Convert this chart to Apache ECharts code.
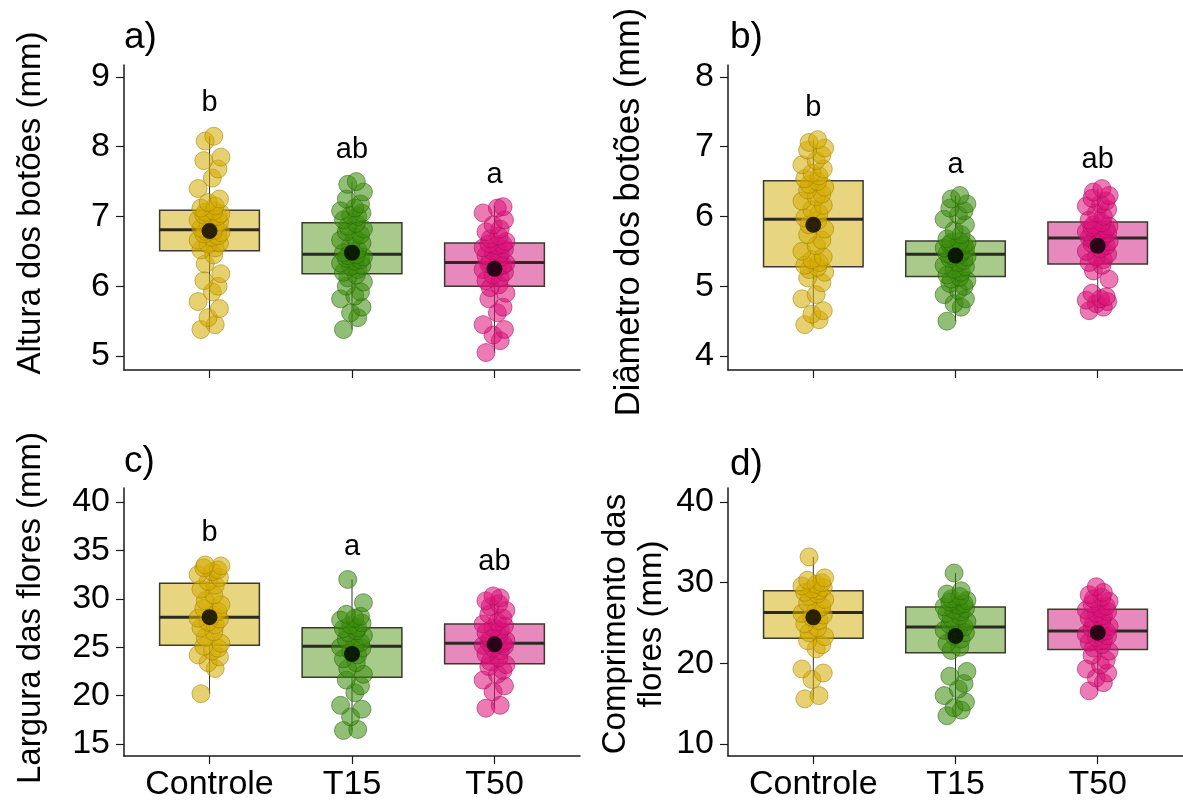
<!DOCTYPE html>
<html lang="pt">
<head>
<meta charset="utf-8">
<script src="https://cdn.jsdelivr.net/npm/echarts@6/dist/echarts.min.js"></script>
<style>
  html, body { margin: 0; padding: 0; background: #fff; }
  #chart { width: 1183px; height: 807px; }
</style>
</head>
<body>
<div id="chart"></div>
<script>
// categorias
var cats = ['Controle', 'T15', 'T50'];

// a) Altura dos botões (mm)
var aCtrl = [5.38, 5.45, 5.55, 5.68, 5.78, 5.92, 6.0, 6.08, 6.18, 6.32, 6.45,
             6.52, 6.55, 6.6, 6.62, 6.66, 6.7, 6.72, 6.75, 6.77, 6.79, 6.8,
             6.83, 6.86, 6.9, 6.92, 6.95, 6.98, 7.0, 7.02, 7.04, 7.06, 7.08,
             7.12, 7.15, 7.2, 7.25, 7.4, 7.55, 7.68, 7.8, 7.85, 8.08, 8.15];
var aT15 = [5.38, 5.55, 5.62, 5.7, 5.82, 5.86, 5.92, 6.0, 6.06, 6.12, 6.16,
            6.2, 6.24, 6.28, 6.3, 6.33, 6.36, 6.38, 6.4, 6.42, 6.44, 6.45,
            6.48, 6.52, 6.58, 6.62, 6.66, 6.7, 6.74, 6.78, 6.82, 6.86, 6.9,
            6.95, 7.0, 7.02, 7.05, 7.08, 7.12, 7.18, 7.25, 7.35, 7.46, 7.5];
var aT50 = [5.05, 5.22, 5.3, 5.38, 5.45, 5.62, 5.7, 5.82, 5.9, 5.98,
            6.02, 6.08, 6.12, 6.16, 6.2, 6.24, 6.27, 6.3, 6.32, 6.33,
            6.36, 6.4, 6.44, 6.47, 6.5, 6.53, 6.55, 6.58, 6.6, 6.61,
            6.64, 6.68, 6.72, 6.78, 6.82, 6.88, 6.95, 7.05, 7.12, 7.14];
var aBox = [[5.38, 6.51, 6.81, 7.09, 8.15], [5.38, 6.18, 6.46, 6.91, 7.5], [5.05, 6.0, 6.34, 6.62, 7.15]];
var aMean = [6.79, 6.48, 6.25];
var aLetters = ['b', 'ab', 'a'];
var aLetterY = [8.63, 7.95, 7.6];
var aTicks = [5, 6, 7, 8, 9];

// b) Diâmetro dos botões (mm)
var bCtrl = [4.45, 4.52, 4.6, 4.65, 4.82, 4.88, 5.05, 5.12, 5.2, 5.24, 5.27,
             5.3, 5.34, 5.38, 5.42, 5.5, 5.58, 5.66, 5.74, 5.82, 5.88, 5.94,
             5.98, 6.04, 6.1, 6.16, 6.22, 6.28, 6.32, 6.38, 6.42, 6.46, 6.5,
             6.54, 6.58, 6.62, 6.68, 6.74, 6.8, 6.88, 6.95, 6.98, 7.06, 7.1];
var bT15 = [4.5, 4.7, 4.75, 4.82, 4.88, 4.94, 5.0, 5.04, 5.08, 5.1, 5.13,
            5.16, 5.2, 5.24, 5.28, 5.3, 5.34, 5.37, 5.4, 5.42, 5.44, 5.45,
            5.47, 5.49, 5.51, 5.53, 5.55, 5.57, 5.59, 5.6, 5.62, 5.63, 5.64,
            5.68, 5.74, 5.8, 5.88, 5.96, 6.02, 6.08, 6.12, 6.18, 6.25, 6.3];
var bT50 = [4.65, 4.7, 4.75, 4.78, 4.8, 4.82, 4.85, 4.9, 5.1, 5.22, 5.3,
            5.34, 5.38, 5.42, 5.46, 5.5, 5.54, 5.58, 5.61, 5.64, 5.66, 5.68,
            5.7, 5.72, 5.74, 5.76, 5.78, 5.8, 5.82, 5.84, 5.86, 5.88, 5.91,
            5.95, 6.0, 6.05, 6.1, 6.15, 6.18, 6.22, 6.26, 6.3, 6.35, 6.4];
var bBox = [[4.45, 5.28, 5.96, 6.51, 7.1], [4.5, 5.14, 5.46, 5.65, 6.3], [4.65, 5.32, 5.69, 5.92, 6.4]];
var bMean = [5.88, 5.44, 5.58];
var bLetters = ['b', 'a', 'ab'];
var bLetterY = [7.55, 6.74, 6.81];
var bTicks = [4, 5, 6, 7, 8];

// c) Largura das flores (mm)
var cCtrl = [20.2, 22.8, 23.4, 24.0, 24.2, 24.6, 24.9, 25.1,
             25.4, 26.0, 26.6, 27.0, 27.3, 27.6, 27.9, 28.0,
             28.3, 28.7, 29.0, 29.4, 29.8, 30.4, 31.0, 31.4,
             31.8, 32.2, 32.5, 32.8, 33.0, 33.2, 33.4, 33.5];
var cT15 = [16.4, 16.5, 17.8, 18.6, 19.0, 20.3, 21.0, 21.6,
            22.2, 22.8, 23.4, 23.8, 24.2, 24.6, 24.9, 25.0,
            25.2, 25.5, 25.8, 26.2, 26.5, 26.7, 26.9, 27.0,
            27.3, 27.5, 27.8, 28.0, 28.2, 28.4, 29.6, 32.0];
var cT50 = [18.7, 19.0, 20.4, 21.0, 21.6, 22.2, 22.6, 23.0, 23.2,
            23.5, 23.9, 24.3, 24.6, 24.9, 25.1, 25.2, 25.3, 25.4,
            25.5, 25.7, 25.9, 26.2, 26.5, 26.8, 27.0, 27.2, 27.4,
            27.6, 28.0, 28.4, 28.8, 29.2, 29.5, 29.8, 30.1, 30.3];
var cBox = [[20.2, 25.2, 28.1, 31.6, 33.2], [16.4, 21.9, 25.1, 27.0, 32.0], [18.7, 23.3, 25.4, 27.4, 30.3]];
var cMean = [28.1, 24.3, 25.3];
var cLetters = ['b', 'a', 'ab'];
var cLetterY = [36.8, 35.4, 33.8];
var cTicks = [15, 20, 25, 30, 35, 40];

// d) Comprimento das flores (mm)
var dCtrl = [15.6, 16.0, 18.0, 18.8, 19.3, 21.8, 22.3, 22.8,
             23.3, 23.8, 24.4, 24.9, 25.3, 25.7, 26.0, 26.2,
             26.5, 27.0, 27.5, 27.9, 28.3, 28.6, 28.8, 29.0,
             29.2, 29.4, 29.6, 29.8, 30.0, 30.3, 30.6, 33.2];
var dT15 = [13.5, 14.2, 14.5, 15.2, 16.0, 16.8, 17.5, 18.4, 19.0,
            21.6, 22.0, 22.5, 23.0, 23.4, 23.8, 24.1, 24.3, 24.5,
            24.8, 25.2, 25.6, 25.9, 26.2, 26.4, 26.6, 26.8, 27.0,
            27.2, 27.4, 27.6, 27.8, 28.0, 28.3, 28.6, 29.0, 31.2];
var dT50 = [16.6, 17.6, 18.2, 18.8, 19.3, 19.8, 20.4, 21.0, 21.5,
            21.9, 22.3, 22.6, 22.9, 23.2, 23.4, 23.6, 23.8, 24.0,
            24.3, 24.6, 25.0, 25.3, 25.6, 25.9, 26.2, 26.4, 26.6,
            26.8, 27.1, 27.4, 27.7, 28.0, 28.2, 28.5, 28.8, 29.5];
var dBox = [[15.6, 23.1, 26.3, 29.0, 33.2], [13.5, 21.3, 24.5, 27.0, 31.2], [16.6, 21.7, 24.0, 26.7, 29.5]];
var dMean = [25.7, 23.4, 23.8];
var dTicks = [10, 20, 30, 40];

// deslocamento horizontal (jitter) fixo, repetido
var jitter = [-0.06, 0.04, -0.01, 0.07, -0.08, 0.02, 0.06, -0.04, 0.08, -0.03, 0.03];

var FONT = '"Liberation Sans", Arial, sans-serif';
var fills = ['rgba(212,172,0,0.7)', 'rgba(60,140,12,0.7)', 'rgba(222,18,122,0.7)'];
var borders = ['rgba(160,128,0,0.7)', 'rgba(40,100,10,0.7)', 'rgba(165,15,92,0.7)'];
var boxFills = ['#E8D580', '#A8CA8B', '#E889BE'];

var grids = [
    {left: 124, top: 65, width: 456, height: 305},
    {left: 728, top: 65, width: 455, height: 305},
    {left: 124, top: 488, width: 456, height: 268},
    {left: 728, top: 488, width: 455, height: 268}
];
var yRanges = [[4.8, 9.17], [3.8, 8.17], [13.76, 41.45], [8.51, 41.74]];
var yTicks = [aTicks, bTicks, cTicks, dTicks];

var panels = [
    {groups: [aCtrl, aT15, aT50], box: aBox, mean: aMean, letters: aLetters, letterY: aLetterY},
    {groups: [bCtrl, bT15, bT50], box: bBox, mean: bMean, letters: bLetters, letterY: bLetterY},
    {groups: [cCtrl, cT15, cT50], box: cBox, mean: cMean, letters: cLetters, letterY: cLetterY},
    {groups: [dCtrl, dT15, dT50], box: dBox, mean: dMean, letters: [], letterY: []}
];

var axisLine = {lineStyle: {color: '#1a1a1a', width: 1.5}};

var xAxes = grids.map(function (g, i) {
    return {
        type: 'value', gridIndex: i, min: 0.4, max: 3.6,
        splitLine: {show: false},
        axisLine: axisLine,
        axisTick: {show: true, length: 8, customValues: [1, 2, 3], lineStyle: {color: '#1a1a1a', width: 1.2}},
        axisLabel: {
            show: i >= 2, customValues: [1, 2, 3], margin: 12,
            fontSize: 34, fontFamily: FONT, color: '#000',
            formatter: function (v) { return cats[Math.round(v) - 1]; }
        }
    };
});

var yAxes = grids.map(function (g, i) {
    return {
        type: 'value', gridIndex: i, min: yRanges[i][0], max: yRanges[i][1],
        splitLine: {show: false},
        axisLine: axisLine,
        axisTick: {show: true, length: 8, customValues: yTicks[i], lineStyle: {color: '#1a1a1a', width: 1.2}},
        axisLabel: {customValues: yTicks[i], margin: 14, fontSize: 34, fontFamily: FONT, color: '#000'}
    };
});

function boxItem(params, api) {
    var x = api.value(0), hw = 0.35;
    var pMin = api.coord([x, api.value(1)]);
    var pMax = api.coord([x, api.value(5)]);
    var pQ1 = api.coord([x - hw, api.value(2)]);
    var pQ3 = api.coord([x + hw, api.value(4)]);
    var pMl = api.coord([x - hw, api.value(3)]);
    var pMr = api.coord([x + hw, api.value(3)]);
    return {
        type: 'group',
        children: [
            {type: 'line', shape: {x1: pMin[0], y1: pMin[1], x2: pMax[0], y2: pMax[1]},
             style: {stroke: '#333', lineWidth: 1}},
            {type: 'rect', shape: {x: pQ1[0], y: pQ3[1], width: pQ3[0] - pQ1[0], height: pQ1[1] - pQ3[1]},
             style: {fill: boxFills[params.dataIndex], stroke: '#3b3a2c', lineWidth: 1.5}},
            {type: 'line', shape: {x1: pMl[0], y1: pMl[1], x2: pMr[0], y2: pMr[1]},
             style: {stroke: '#2a2a20', lineWidth: 3}}
        ]
    };
}

// letras de significância como texto no ponto (categoria, y)
function letterRenderer(letters) {
    return function (params, api) {
        var p = api.coord([api.value(0), api.value(1)]);
        return {
            type: 'text', x: p[0], y: p[1],
            style: {text: letters[params.dataIndex], fontSize: 29, fontFamily: FONT, fill: '#000',
                    textAlign: 'center', textVerticalAlign: 'middle', align: 'center', verticalAlign: 'middle'}
        };
    };
}

var series = [];
panels.forEach(function (p, i) {
    series.push({
        type: 'custom', xAxisIndex: i, yAxisIndex: i, z: 1,
        renderItem: boxItem,
        encode: {x: 0, y: [1, 2, 3, 4, 5]},
        data: p.box.map(function (b, g) { return [g + 1].concat(b); })
    });
    p.groups.forEach(function (vals, g) {
        series.push({
            type: 'scatter', xAxisIndex: i, yAxisIndex: i, z: 2,
            symbolSize: 18,
            itemStyle: {color: fills[g], borderColor: borders[g], borderWidth: 1},
            data: vals.map(function (v, k) { return [g + 1 + jitter[k % jitter.length], v]; })
        });
    });
    series.push({
        type: 'scatter', xAxisIndex: i, yAxisIndex: i, z: 3,
        symbolSize: 16, itemStyle: {color: '#000'},
        data: p.mean.map(function (m, g) { return [g + 1, m]; })
    });
    if (p.letters.length) {
        series.push({
            type: 'custom', xAxisIndex: i, yAxisIndex: i, z: 3,
            renderItem: letterRenderer(p.letters),
            encode: {x: 0, y: 1},
            data: p.letterY.map(function (y, g) { return [g + 1, y]; })
        });
    }
});

function vText(txt, x, y, fs) {
    return {
        type: 'text', x: x, y: y, rotation: Math.PI / 2,
        style: {text: txt, fontSize: fs || 33, fontFamily: FONT, fill: '#000', lineHeight: 36,
                textAlign: 'center', textVerticalAlign: 'middle', align: 'center', verticalAlign: 'middle'}
    };
}
function pLabel(txt, x, y) {
    return {
        type: 'text', x: x, y: y,
        style: {text: txt, fontSize: 37, fontFamily: FONT, fill: '#000',
                textAlign: 'left', textVerticalAlign: 'middle', align: 'left', verticalAlign: 'middle'}
    };
}

var myChart = echarts.init(document.getElementById('chart'));
myChart.setOption({
    animation: false,
    grid: grids,
    xAxis: xAxes,
    yAxis: yAxes,
    series: series,
    graphic: [
        vText('Altura dos botões (mm)', 31, 203),
        vText('Diâmetro dos botões (mm)', 629, 212, 34.5),
        vText('Largura das flores (mm)', 31, 608),
        vText('Comprimento das\nflores (mm)', 634, 624),
        pLabel('a)', 124, 38),
        pLabel('b)', 730, 38),
        pLabel('c)', 124, 462),
        pLabel('d)', 730, 465)
    ]
});
</script>
</body>
</html>
